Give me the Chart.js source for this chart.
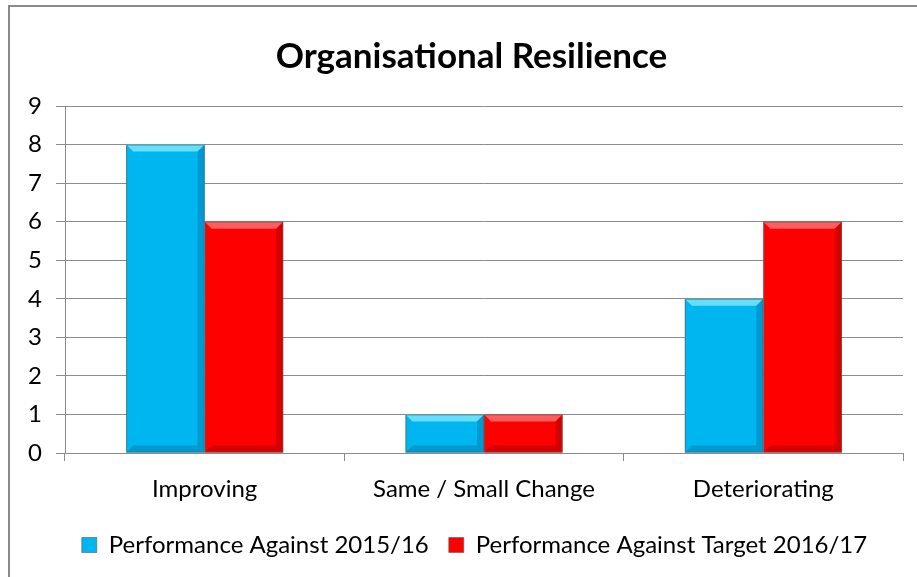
<!DOCTYPE html>
<html>
<head>
<meta charset="utf-8">
<script src="https://cdn.jsdelivr.net/npm/chart.js@4"></script>
<style>
  html, body { margin: 0; padding: 0; background: #fff; }
  #wrap { position: relative; width: 917px; height: 577px; overflow: hidden; }
  #frame { position: absolute; left: 8px; top: 5px; width: 960px; height: 660px; border: 2px solid #8a8a8a; box-sizing: border-box; }
  canvas { position: absolute; left: 0; top: 0; }
</style>
</head>
<body>
<div id="wrap">
  <div id="frame"></div>
  <canvas id="chart" width="917" height="577"></canvas>
</div>
<script>
// --- Data ---
const categories = ['Improving', 'Same / Small Change', 'Deteriorating'];
const seriesNames = ['Performance Against 2015/16', 'Performance Against Target 2016/17'];
const against2015 = [8, 1, 4];
const againstTarget = [6, 1, 6];
const yTicks = [0, 1, 2, 3, 4, 5, 6, 7, 8, 9];

const FONT = "Lato, 'Open Sans', sans-serif";

// Draws the little Excel style bevel on every bar, using the bar's own geometry
const bevelPlugin = {
    id: 'bevel',
    afterDatasetsDraw(chart) {
        const ctx = chart.ctx;
        chart.data.datasets.forEach((ds, i) => {
            const meta = chart.getDatasetMeta(i);
            meta.data.forEach(bar => {
                const left = bar.x - bar.width / 2;
                const right = bar.x + bar.width / 2;
                const top = bar.y;
                const bottom = bar.base;
                const b = Math.min(7, (bottom - top) / 2);
                ctx.save();
                // top highlight
                ctx.fillStyle = ds.bevelLight;
                ctx.beginPath();
                ctx.moveTo(left, top); ctx.lineTo(right, top);
                ctx.lineTo(right - b, top + b); ctx.lineTo(left + b, top + b);
                ctx.closePath(); ctx.fill();
                // right and bottom shade
                ctx.fillStyle = ds.bevelDark;
                ctx.beginPath();
                ctx.moveTo(right, top); ctx.lineTo(right, bottom);
                ctx.lineTo(right - b, bottom - b); ctx.lineTo(right - b, top + b);
                ctx.closePath(); ctx.fill();
                ctx.beginPath();
                ctx.moveTo(left, bottom); ctx.lineTo(right, bottom);
                ctx.lineTo(right - b, bottom - b); ctx.lineTo(left + b, bottom - b);
                ctx.closePath(); ctx.fill();
                ctx.strokeStyle = 'rgba(90,90,90,0.6)';
                ctx.lineWidth = 1;
                ctx.strokeRect(left + 0.5, top + 0.5, right - left - 1, bottom - top - 1);
                ctx.restore();
            });
        });
    }
};

// Title and legend sit a little right of the canvas centre in the original
const centreShift = {
    id: 'centreShift',
    afterLayout(chart) {
        chart.titleBlock.left += 15; chart.titleBlock.right += 15;
        chart.legend.left += 18; chart.legend.right += 18;
    }
};

const ctx = document.getElementById('chart').getContext('2d');
new Chart(ctx, {
    type: 'bar',
    data: {
        labels: categories,
        datasets: [{
            label: seriesNames[0],
            data: against2015,
            backgroundColor: '#00B6F0',
            bevelLight: 'rgba(120,230,255,0.85)',
            bevelDark: 'rgba(0,110,160,0.4)',
            borderWidth: 0,
            categoryPercentage: 0.562,
            barPercentage: 1.0
        }, {
            label: seriesNames[1],
            data: againstTarget,
            backgroundColor: '#FF0000',
            bevelLight: 'rgba(255,110,110,0.85)',
            bevelDark: 'rgba(150,0,0,0.4)',
            borderWidth: 0,
            categoryPercentage: 0.562,
            barPercentage: 1.0
        }]
    },
    options: {
        responsive: false,
        animation: false,
        layout: { padding: { left: 10, right: 14, top: 30, bottom: 10 } },
        plugins: {
            title: {
                display: true,
                text: 'Organisational Resilience',
                color: '#000',
                font: { family: FONT, size: 35, weight: 'bold' },
                padding: { top: 6, bottom: 28 }
            },
            legend: {
                position: 'bottom',
                labels: {
                    color: '#000',
                    font: { family: FONT, size: 24 },
                    boxWidth: 15,
                    boxHeight: 15,
                    padding: 20,
                    generateLabels(chart) {
                        return chart.data.datasets.map((ds, i) => ({
                            text: ds.label,
                            fillStyle: ds.backgroundColor,
                            strokeStyle: 'rgba(90,90,90,0.6)',
                            lineWidth: 1,
                            datasetIndex: i
                        }));
                    }
                }
            },
            tooltip: { enabled: false }
        },
        scales: {
            x: {
                grid: { drawOnChartArea: false, color: '#8c8c8c', tickLength: 8 },
                border: { color: '#8c8c8c' },
                afterFit(axis) { axis.height = 60; },
                ticks: { color: '#000', font: { family: FONT, size: 24 }, padding: 14 }
            },
            y: {
                min: 0,
                max: 9,
                afterBuildTicks(axis) { axis.ticks = yTicks.map(v => ({ value: v })); },
                afterFit(axis) { axis.width = 55; },
                grid: { color: '#8c8c8c', tickLength: 9 },
                border: { color: '#8c8c8c' },
                ticks: { color: '#000', font: { family: FONT, size: 24 }, padding: 14 }
            }
        }
    },
    plugins: [bevelPlugin, centreShift]
});
</script>
</body>
</html>
